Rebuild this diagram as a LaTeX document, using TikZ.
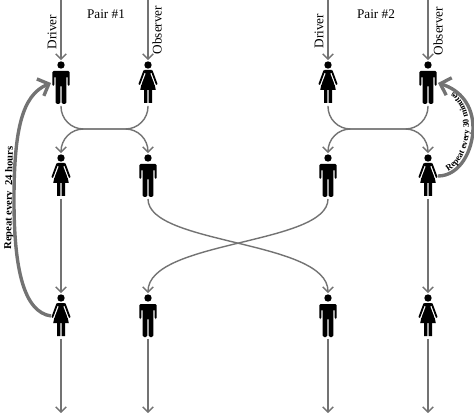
\documentclass[tikz,border=0pt]{standalone}
\usepackage{fontspec}
\setmainfont{Liberation Serif}
\usetikzlibrary{arrows.meta,decorations.text}
\definecolor{flowgray}{gray}{0.45}
\newcommand{\manfigure}{%
    \fill (0,-18) circle (3.7);
    \fill[rounded corners=1pt] (-8.7,3) -- (-8.7,-12) -- (8.7,-12) -- (8.7,3) -- (6.6,3) -- (6.6,-7) -- (5.4,-7)
        -- (5.4,21) -- (0.6,21) -- (0.6,2) -- (-0.6,2) -- (-0.6,21) -- (-5.4,21)
        -- (-5.4,-7) -- (-6.6,-7) -- (-6.6,3) -- cycle;
}
\newcommand{\womanfigure}{%
    \fill (0,-18) circle (3.7);
    \fill (-3.5,-13) -- (3.5,-13) -- (4.5,-8) -- (7.8,7) -- (-7.8,7) -- (-4.5,-8) -- cycle;
    \draw[white, line width=2.1pt] (3.8,-10) -- (8.2,1.5) (-3.8,-10) -- (-8.2,1.5);
    \draw[black, line width=1.3pt, line cap=round] (3.8,-12) -- (8.6,1) (-3.8,-12) -- (-8.6,1);
    \fill (-4,7) rectangle (-0.7,20) (0.7,7) rectangle (4,20);
}
\begin{document}
\begin{tikzpicture}[
        x=0.025cm, y=-0.025cm,
        person/.style={inner sep=0pt, outer sep=0pt, minimum width=14.2pt, minimum height=32.7pt},
        man/.style={person, path picture={
            \begin{scope}[shift={(path picture bounding box.center)}]\manfigure\end{scope}}},
        woman/.style={person, path picture={
            \begin{scope}[shift={(path picture bounding box.center)}]\womanfigure\end{scope}}},
        arr/.style={-{Straight Barb[length=3.6pt, width=7.5pt]}, draw=flowgray, line width=1pt},
        swap/.style={arr, rounded corners=16pt},
        repeatarr/.style={-{Straight Barb[length=6.5pt, width=13pt]}, draw=flowgray, line width=2.4pt},
        lbl/.style={font=\fontsize{9.4}{11}\selectfont, inner sep=0pt},
        replbl/.style={font=\fontsize{7.5}{8}\selectfont\bfseries, inner sep=0pt}
    ]
    \useasboundingbox (0,0) rectangle (474,413);

    \node[man]   (m11) at (61,83)   {};
    \node[woman] (w12) at (148,83)  {};
    \node[woman] (w13) at (328,83)  {};
    \node[man]   (m14) at (428,83)  {};

    \node[woman] (w21) at (61,176)  {};
    \node[man]   (m22) at (148,176) {};
    \node[man]   (m23) at (328,176) {};
    \node[woman] (w24) at (428,176) {};

    \node[woman] (w31) at (61,316)  {};
    \node[man]   (m32) at (148,316) {};
    \node[man]   (m33) at (328,316) {};
    \node[woman] (w34) at (428,316) {};

    % free ends at the page edges
    \coordinate (t1) at (61,0);
    \coordinate (t2) at (148,0);
    \coordinate (t3) at (328,0);
    \coordinate (t4) at (428,0);
    \coordinate (b1) at (61,413);
    \coordinate (b2) at (148,413);
    \coordinate (b3) at (328,413);
    \coordinate (b4) at (428,413);

    \node[lbl] (pair1) at (106,14) {Pair \#1};
    \node[lbl] (pair2) at (376,14) {Pair \#2};
    \node[lbl, rotate=90] (drv1) at (52,32)  {Driver};
    \node[lbl, rotate=90] (obs1) at (157,30) {Observer};
    \node[lbl, rotate=90] (drv2) at (319,31) {Driver};
    \node[lbl, rotate=90] (obs2) at (438,31) {Observer};
    \node[replbl, rotate=89] (rep24) at (9.5,198) {Repeat every\ \ 24 hours};

    \draw[arr] (t1) -- (m11);
    \draw[arr] (t2) -- (w12);
    \draw[arr] (t3) -- (w13);
    \draw[arr] (t4) -- (m14);

    \draw[swap] (m11.south) |- (105,129) -| (m22.north);
    \draw[swap] (w12.south) |- (105,129) -| (w21.north);
    \draw[swap] (w13.south) |- (378,129) -| (w24.north);
    \draw[swap] (m14.south) |- (378,129) -| (m23.north);

    \draw[arr] (w21) -- (w31);
    \draw[arr] (w24) -- (w34);
    \draw[arr] (m22.south) .. controls (148,245) and (328,240) .. (m33.north);
    \draw[arr] (m23.south) .. controls (328,245) and (148,240) .. (m32.north);

    \draw[arr] (w31) -- (b1);
    \draw[arr] (m32) -- (b2);
    \draw[arr] (m33) -- (b3);
    \draw[arr] (w34) -- (b4);

    \draw[repeatarr] (w31.west) .. controls (24,312) and (14,270) .. (14,200)
        .. controls (14,130) and (22,95) .. (m11.west);
    \draw[repeatarr] (w24.east) .. controls (460,176) and (473,150) .. (473,128)
        .. controls (473,105) and (460,90) .. (m14.east);

    % curved label runs just inside the right loop
    \coordinate (rs) at (444,173);
    \coordinate (re) at (450,89);
    \path[decorate, decoration={text along path, text align=center,
            text={|\fontsize{6.2}{7}\selectfont\bfseries|Repeat every 30 minutes}}]
        (rs) .. controls (460,168) and (469,148) .. (469,128)
             .. controls (469,110) and (461,97) .. (re);
\end{tikzpicture}
\end{document}
